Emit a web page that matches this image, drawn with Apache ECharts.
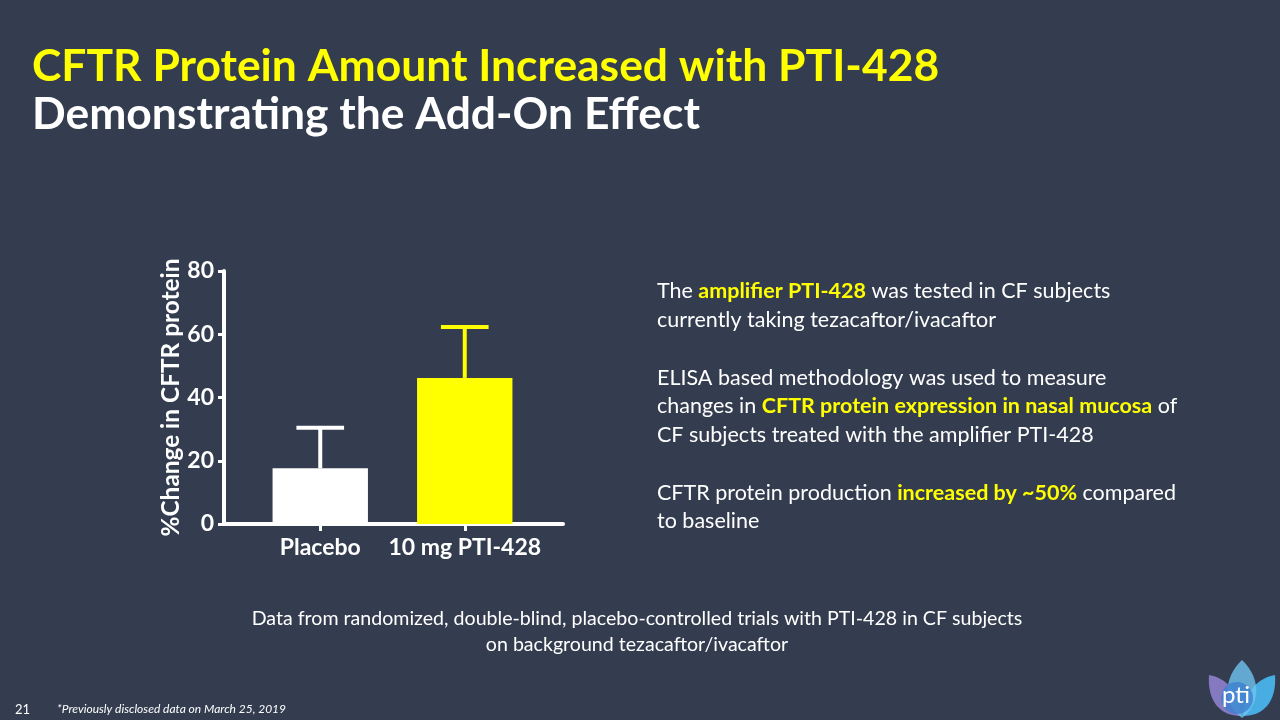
<!DOCTYPE html>
<html>
<head>
<meta charset="utf-8">
<script src="https://cdn.jsdelivr.net/npm/echarts@6/dist/echarts.min.js"></script>
<style>
html,body{margin:0;padding:0;background:#333d4f;}
#c{width:1280px;height:720px;}
</style>
</head>
<body>
<div id="c"></div>
<script>
const categories = ['Placebo', '10 mg PTI-428'];
const means = [17.6, 46.2];
const errUpper = [12.8, 16.1];
const barColors = ['#ffffff', '#ffff00'];
const yTicks = [0, 20, 40, 60, 80];

const FONT = 'Lato';
const chart = echarts.init(document.getElementById('c'));

const logoSvg =
  '<svg xmlns="http://www.w3.org/2000/svg" width="72" height="62" viewBox="0 0 72 62">' +
  '<path d="M34,58 C14,58 0,44 2,17 C19,20 32,33 34,58 Z" fill="#8a7cc6" fill-opacity="0.95"/>' +
  '<path d="M36,58 C56,58 70,44 68,17 C51,20 38,33 36,58 Z" fill="#4ab3ea" fill-opacity="0.95"/>' +
  '<path d="M35,60 C18,48 14,22 35,2 C56,22 52,48 35,60 Z" fill="#6ec3f0" fill-opacity="0.8"/>' +
  '<circle cx="30" cy="40" r="16" fill="#3f7fcf" fill-opacity="0.8"/>' +
  '</svg>';

const option = {
  backgroundColor: '#333d4f',
  animation: false,
  title: [
    {
      text: 'CFTR Protein Amount Increased with PTI-428',
      left: 27, top: 40,
      textStyle: {color: '#ffff00', fontFamily: FONT, fontWeight: 'bold', fontSize: 44.4}
    },
    {
      text: 'Demonstrating the Add-On Effect',
      left: 27, top: 88,
      textStyle: {color: '#ffffff', fontFamily: FONT, fontWeight: 'bold', fontSize: 44.4}
    },
    {
      text: [
        '{w|The }{y|amplifier PTI-428}{w| was tested in CF subjects}',
        '{w|currently taking tezacaftor/ivacaftor}',
        '{w| }',
        '{w|ELISA based methodology was used to measure}',
        '{w|changes in }{y|CFTR protein expression in nasal mucosa}{w| of}',
        '{w|CF subjects treated with the amplifier PTI-428}',
        '{w| }',
        '{w|CFTR protein production }{y|increased by ~50%}{w| compared}',
        '{w|to baseline}'
      ].join('\n'),
      left: 652, top: 272,
      textStyle: {
        fontWeight: 'normal',
        rich: {
          w: {color: '#ffffff', fontFamily: FONT, fontSize: 21.5, fontWeight: 'normal', lineHeight: 28.75},
          y: {color: '#ffff00', fontFamily: FONT, fontSize: 21.5, fontWeight: 'bold', lineHeight: 28.75}
        }
      }
    },
    {
      text: 'Data from randomized, double-blind, placebo-controlled trials with PTI-428 in CF subjects\non background tezacaftor/ivacaftor',
      left: 632, top: 601, textAlign: 'center',
      textStyle: {color: '#ffffff', fontFamily: FONT, fontSize: 19.6, fontWeight: 'normal', lineHeight: 26, align: 'center'}
    },
    {
      text: '*Previously disclosed data on March 25, 2019',
      left: 52, top: 698,
      textStyle: {color: '#ffffff', fontFamily: FONT, fontSize: 12, fontStyle: 'italic', fontWeight: 'normal'}
    },
    {
      text: '21',
      left: 10, top: 698,
      textStyle: {color: '#ffffff', fontFamily: FONT, fontSize: 13, fontWeight: 'normal'}
    }
  ],
  grid: [
    {left: 248, width: 289, top: 271, bottom: 196, containLabel: false},
    {left: 224, width: 339, top: 271, bottom: 196, containLabel: false}
  ],
  xAxis: [
    {
      type: 'category', gridIndex: 0, data: categories,
      axisLine: {show: false},
      axisTick: {show: true, alignWithLabel: true, interval: 0, length: 7, lineStyle: {color: '#ffffff', width: 3}},
      axisLabel: {color: '#ffffff', fontFamily: FONT, fontWeight: 'bold', fontSize: 23, margin: 12, interval: 0},
      splitLine: {show: false}
    },
    {
      type: 'value', gridIndex: 1, min: 0, max: 1,
      axisLine: {show: true, lineStyle: {color: '#ffffff', width: 4}},
      axisTick: {show: false}, axisLabel: {show: false}, splitLine: {show: false}
    }
  ],
  yAxis: [
    {
      type: 'value', gridIndex: 0, min: yTicks[0], max: yTicks[yTicks.length - 1], interval: 20,
      offset: 24,
      name: '%Change in CFTR protein', nameLocation: 'middle', nameGap: 40,
      nameTextStyle: {color: '#ffffff', fontFamily: FONT, fontWeight: 'bold', fontSize: 24.4},
      axisLine: {show: true, lineStyle: {color: '#ffffff', width: 4}},
      axisTick: {show: true, length: 6, lineStyle: {color: '#ffffff', width: 3}},
      axisLabel: {color: '#ffffff', fontFamily: FONT, fontWeight: 'bold', fontSize: 23, margin: 10},
      splitLine: {show: false}
    },
    {
      type: 'value', gridIndex: 1, min: 0, max: 80, show: false
    }
  ],
  series: [
    {
      type: 'bar', xAxisIndex: 0, yAxisIndex: 0,
      barWidth: '66%',
      data: means.map((v, i) => ({value: v, itemStyle: {color: barColors[i]}})),
      z: 2
    },
    {
      type: 'custom', xAxisIndex: 0, yAxisIndex: 0, z: 3,
      data: means.map((v, i) => [i, v, v + errUpper[i]]),
      renderItem: function (params, api) {
        const i = api.value(0);
        const base = api.coord([i, api.value(1)]);
        const top = api.coord([i, api.value(2)]);
        const band = api.size([1, 0])[0];
        const half = band * 0.165;
        const col = barColors[params.dataIndex];
        return {
          type: 'group',
          children: [
            {type: 'line', shape: {x1: base[0], y1: base[1], x2: top[0], y2: top[1]},
              style: {stroke: col, lineWidth: 4}},
            {type: 'line', shape: {x1: top[0] - half, y1: top[1], x2: top[0] + half, y2: top[1]},
              style: {stroke: col, lineWidth: 4}}
          ]
        };
      }
    }
  ],
  graphic: [
    {type: 'image', left: 1207, top: 658, style: {image: 'data:image/svg+xml;charset=utf-8,' + encodeURIComponent(logoSvg), width: 72, height: 62}},
    {type: 'text', left: 1222, top: 683, style: {text: 'pti', fill: '#ffffff', font: '24px Lato'}}
  ]
};
chart.setOption(option);
</script>
</body>
</html>
